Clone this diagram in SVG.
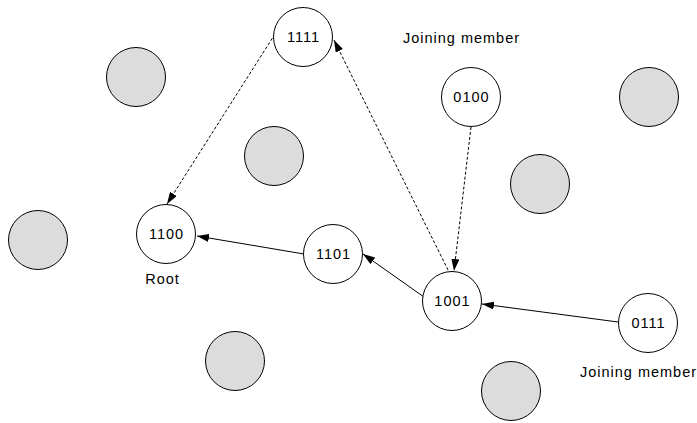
<svg xmlns="http://www.w3.org/2000/svg" width="697" height="423" viewBox="0 0 697 423">
<defs>
<style>
.n{fill:#fff;stroke:#000;stroke-width:1}
.g{fill:#dcdcdc;stroke:#000;stroke-width:1}
.t{font-family:"Liberation Sans",Arial,sans-serif;font-size:14.5px;letter-spacing:1px;fill:#000;text-anchor:middle}
.s{stroke:#000;stroke-width:1;fill:none;marker-end:url(#ah)}
.d{stroke:#000;stroke-width:1;fill:none;stroke-dasharray:3,2;marker-end:url(#ah)}
</style>
<marker id="ah" markerWidth="12" markerHeight="8" refX="12" refY="4" orient="auto" markerUnits="userSpaceOnUse">
<path d="M0,0 L12,4 L0,8 Z" fill="#000"/>
</marker>
</defs>
<rect width="697" height="423" fill="#fff"/>
<g id="others">
<circle class="g" cx="136" cy="77" r="29.5"/>
<circle class="g" cx="274" cy="156" r="29.5"/>
<circle class="g" cx="38" cy="240" r="29.5"/>
<circle class="g" cx="649" cy="97" r="29.5"/>
<circle class="g" cx="540" cy="184" r="29.5"/>
<circle class="g" cx="235" cy="361" r="29.5"/>
<circle class="g" cx="511" cy="391" r="29.5"/>
</g>
<g id="connectors">
<line class="d" x1="275" y1="34" x2="167" y2="204"/>
<line class="d" x1="448" y1="270" x2="334" y2="40"/>
<line class="d" x1="471" y1="127" x2="454" y2="271"/>
<line class="s" x1="304" y1="254" x2="197" y2="236"/>
<line class="s" x1="424" y1="297" x2="363" y2="254"/>
<line class="s" x1="618" y1="322" x2="482" y2="304"/>
</g>
<g id="n1111"><circle class="n" cx="303" cy="37" r="29.5"/><text class="t" x="303.5" y="42">1111</text></g>
<g id="n1100"><circle class="n" cx="166" cy="234" r="29.5"/><text class="t" x="166.5" y="239">1100</text></g>
<g id="n1101"><circle class="n" cx="333" cy="254" r="29.5"/><text class="t" x="333.5" y="259">1101</text></g>
<g id="n0100"><circle class="n" cx="471" cy="97" r="29.5"/><text class="t" x="471.5" y="102">0100</text></g>
<g id="n1001"><circle class="n" cx="452" cy="301" r="29.5"/><text class="t" x="452.5" y="306">1001</text></g>
<g id="n0111"><circle class="n" cx="648" cy="323" r="29.5"/><text class="t" x="648.5" y="328">0111</text></g>
<g id="labels">
<text class="t" x="461.5" y="43">Joining member</text>
<text class="t" x="162.5" y="284">Root</text>
<text class="t" x="638.5" y="377">Joining member</text>
</g>
</svg>
